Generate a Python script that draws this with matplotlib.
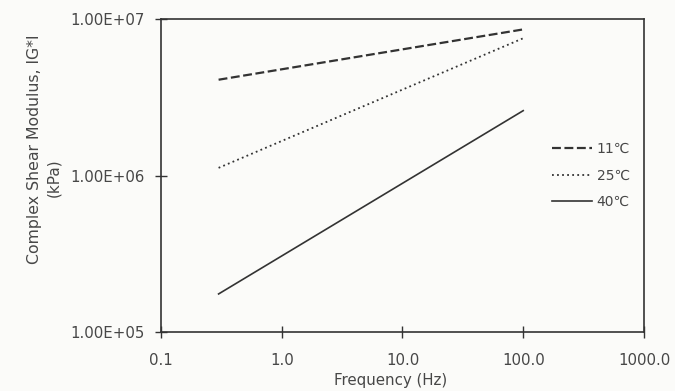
import matplotlib
matplotlib.use("Agg")
import matplotlib.pyplot as plt
from matplotlib.ticker import FixedLocator, NullLocator

plt.rcParams['font.family'] = ['DejaVu Sans']

freq = [0.3, 100.0]
g_11 = [4.1e6, 8.6e6]
g_25 = [1.12e6, 7.55e6]
g_40 = [1.75e5, 2.6e6]
labels = ["11\u2103", "25\u2103", "40\u2103"]
xticks = [0.1, 1, 10, 100, 1000]
xticklabels = ["0.1", "1.0", "10.0", "100.0", "1000.0"]
yticks = [1e5, 1e6, 1e7]
yticklabels = ["1.00E+05", "1.00E+06", "1.00E+07"]

ink = "#333333"
txt = "#474747"
fig = plt.figure(figsize=(6.75, 3.91), dpi=100)
fig.patch.set_facecolor("#fbfbf9")
ax = fig.add_axes([0.2385, 0.151, 0.7155, 0.80])
ax.set_facecolor("#fbfbf9")

ax.plot(freq, g_11, linestyle=(0, (4, 1.6)), color=ink, lw=1.6, label=labels[0])
ax.plot(freq, g_25, linestyle=(0, (1, 1.8)), color=ink, lw=1.3, label=labels[1])
ax.plot(freq, g_40, linestyle="-", color=ink, lw=1.2, label=labels[2])

ax.set_xscale("log")
ax.set_yscale("log")
ax.set_xlim(0.1, 1000)
ax.set_ylim(1e5, 1e7)
ax.xaxis.set_major_locator(FixedLocator(xticks))
ax.set_xticklabels(xticklabels)
ax.yaxis.set_major_locator(FixedLocator(yticks))
ax.set_yticklabels(yticklabels)
ax.xaxis.set_minor_locator(NullLocator())
ax.yaxis.set_minor_locator(NullLocator())
ax.tick_params(axis="both", direction="inout", length=8, width=1.0, colors=ink,
               labelsize=10.8, labelcolor=txt)
ax.tick_params(axis="x", pad=11)
ax.tick_params(axis="y", pad=8)
for s in ax.spines.values():
    s.set_color(ink)
    s.set_linewidth(1.2)

ax.set_xlabel("Frequency (Hz)", fontsize=10.8, color=txt)
ax.xaxis.set_label_coords(0.475, -0.13)
fig.text(0.051, 0.619, "Complex Shear Modulus, IG*I", rotation=90, ha="center",
         va="center", fontsize=11.3, color=txt)
fig.text(0.080, 0.545, "(kPa)", rotation=90, ha="center", va="center",
         fontsize=11.0, color=txt)

leg = ax.legend(loc="upper left", bbox_to_anchor=(0.81, 0.607), frameon=False,
                handlelength=2.9, handletextpad=0.3, labelspacing=0.9, fontsize=10,
                borderaxespad=0, borderpad=0)
for t in leg.get_texts():
    t.set_color(txt)

fig.savefig("out.png", dpi=100, facecolor=fig.get_facecolor())
